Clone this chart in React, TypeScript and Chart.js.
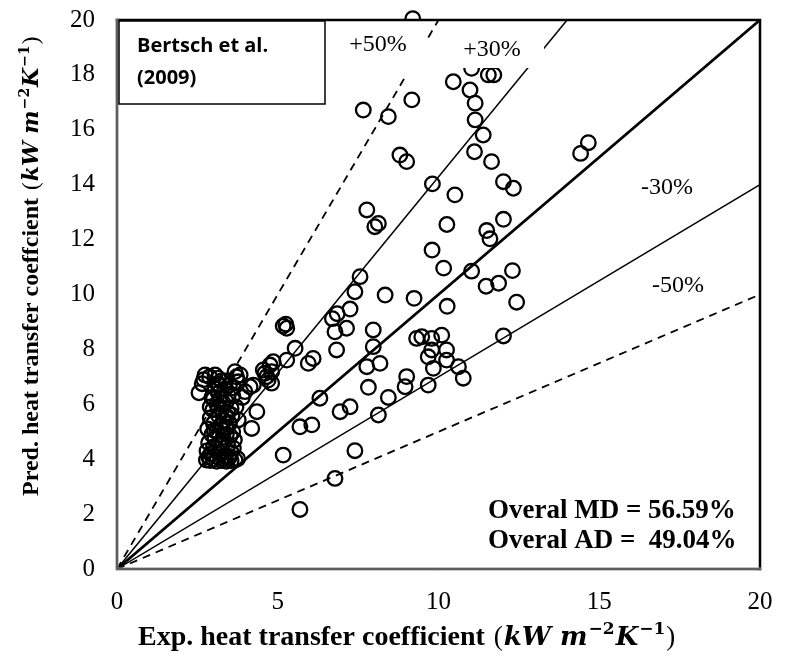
import React, { useEffect, useRef } from 'react';
import { Chart, registerables } from 'chart.js';

Chart.register(...registerables);

// Experimental vs. predicted heat transfer coefficient, kW m^-2 K^-1
const expHTC = [
  9.2, 10.46, 11.03, 11.55, 11.72, 10.98, 11.14, 11.14, 11.39, 11.12, 11.65, 12.02, 12.33,
  7.66, 8.44, 9.17, 8.8, 9.01, 9.81, 10.51, 7.77, 8.02, 8.13, 10.26, 9.8, 11.5, 11.6, 12.02,
  10.16, 11.03, 12.3, 11.48, 11.87, 14.42, 14.66, 7.56, 7.4, 7.25, 8.34, 9.24, 10.27, 12.43,
  6.7, 6.85, 6.78, 7.14, 5.17, 5.25, 5.28, 6.83, 7.97, 7.97, 9.32, 9.48, 9.79, 10.1, 9.68,
  9.79, 10.25, 10.25, 9.84, 10.62, 10.77, 12.02, 9.01, 8.96, 9.68, 7.77, 8.18, 7.82, 8.44,
  8.13, 6.31, 6.94, 7.25, 5.69, 6.06, 5.17, 7.4, 6.78, 5.69, 5.54, 5.28, 5.95, 6.1, 4.76,
  4.81, 4.81, 4.55, 4.66, 4.24, 4.14, 4.35, 4.19, 4.86, 4.6, 4.7,
  2.74, 2.88, 3.05, 3.15, 3.25, 2.65, 2.55, 3.67, 3.72, 3.83, 3.77, 3.98, 3.9,
  3.05, 3.15, 3.2, 3.1, 3.25, 3.15, 3.3, 3.2, 3.1, 3.3, 3.2, 3.1, 3.25,
  3.35, 3.4, 3.45, 3.5, 3.4, 3.45, 3.55, 3.6, 3.7, 3.6, 3.77, 3.65,
  2.9, 2.85, 2.8, 2.95, 3.0, 2.98,
  2.78, 2.9, 3.0, 3.1, 3.25, 3.4, 3.55, 3.67, 3.75, 2.85,
  2.95, 3.0, 3.38, 3.5, 3.28, 3.42, 3.52, 3.02, 3.36, 3.48, 2.92, 3.18, 3.58, 3.3, 2.7, 3.62,
  2.82, 2.9, 3.0, 3.12, 3.45, 3.55, 3.38, 3.28, 3.05, 2.95, 3.5, 3.15, 3.35, 3.62,
];
const predHTC = [
  20.05, 17.75, 18.24, 18.0, 18.0, 17.45, 16.97, 16.36, 15.81, 15.2, 14.84, 14.11, 13.87,
  16.72, 16.48, 17.09, 15.08, 14.84, 14.03, 13.63, 13.08, 12.47, 12.59, 12.55, 11.62, 12.33, 12.03, 12.74,
  10.96, 10.85, 10.87, 10.3, 10.41, 15.14, 15.53, 10.65, 10.1, 9.47, 9.98, 9.86, 9.57, 9.72,
  9.12, 9.3, 8.64, 8.77, 8.85, 8.92, 8.77, 7.98, 8.71, 8.1, 8.4, 8.46, 8.4, 8.52, 7.73,
  7.98, 7.98, 7.61, 7.31, 7.37, 6.95, 8.49, 7.01, 6.64, 6.7, 7.37, 7.49, 6.62, 6.25,
  5.61, 6.22, 5.73, 5.91, 5.18, 5.25, 4.15, 4.31, 3.3, 2.17, 8.04, 7.61, 7.49, 7.67, 7.43,
  7.19, 6.77, 7.25, 7.01, 6.7, 6.64, 5.73, 5.12, 7.55, 7.13, 6.88,
  7.07, 7.0, 7.07, 6.95, 6.85, 6.75, 6.42, 7.19, 7.0, 7.07, 6.82, 6.46, 6.25,
  6.6, 6.4, 6.2, 6.0, 5.8, 5.6, 5.4, 5.2, 5.0, 4.8, 4.6, 4.4, 4.2,
  6.55, 6.1, 5.7, 5.3, 4.9, 4.5, 4.25, 6.3, 5.9, 5.0, 5.43, 4.7,
  5.5, 4.6, 4.3, 4.9, 5.3, 5.8,
  3.97, 3.95, 4.0, 3.92, 3.95, 3.92, 3.95, 3.97, 4.02, 4.08,
  6.25, 4.45, 6.85, 6.7, 5.1, 5.55, 4.85, 5.05, 4.1, 4.05, 4.2, 6.72, 5.6, 6.05, 6.9, 4.4,
  5.1, 5.9, 6.2, 6.75, 6.35, 5.85, 5.15, 4.55, 4.75, 4.2, 4.1, 5.9, 4.0, 6.6,
];

// Reference lines through the origin: parity and deviation bands
const parityLine = [{ x: 0, y: 0 }, { x: 20, y: 20 }];
const plus30Line = [{ x: 0, y: 0 }, { x: 14, y: 20 }];
const plus50Line = [{ x: 0, y: 0 }, { x: 10, y: 20 }];
const minus30Line = [{ x: 0, y: 0 }, { x: 20, y: 14 }];
const minus50Line = [{ x: 0, y: 0 }, { x: 20, y: 10 }];

const bandLabels = ['+50%', '+30%', '-30%', '-50%'];
const sourceLines = ['Bertsch et al.', '(2009)'];
const statLines = ['Overal MD = 56.59%', 'Overal AD =  49.04%'];

const SERIF = "'Liberation Serif', 'Times New Roman', serif";
const MATH = "'DejaVu Serif', 'Liberation Serif', serif";
const SANS = "'Open Sans', Lato, 'Liberation Sans', sans-serif";

// Draws "prefix (kW m^-2 K^-1)" starting at the current origin along +x
function drawUnitTitle(
  ctx: CanvasRenderingContext2D,
  prefix: string,
  x: number,
  y: number,
  size: number,
  mathSize: number,
) {
  const sup = Math.round(mathSize * 0.64);
  const rise = Math.round(mathSize * 0.42);
  const parts: { t: string; font: string; dy: number; gap: number }[] = [
    { t: prefix, font: `bold ${size}px ${SERIF}`, dy: 0, gap: 2 },
    { t: '(', font: `${mathSize + 1}px ${SERIF}`, dy: 0, gap: 1 },
    { t: 'kW', font: `italic bold ${mathSize}px ${MATH}`, dy: 0, gap: 0 },
    { t: ' m', font: `italic bold ${mathSize}px ${MATH}`, dy: 0, gap: 1 },
    { t: '\u22122', font: `bold ${sup}px ${MATH}`, dy: -rise, gap: 1 },
    { t: 'K', font: `italic bold ${mathSize}px ${MATH}`, dy: 0, gap: 1 },
    { t: '\u22121', font: `bold ${sup}px ${MATH}`, dy: -rise, gap: 1 },
    { t: ')', font: `${mathSize + 1}px ${SERIF}`, dy: 0, gap: 0 },
  ];
  let cx = x;
  ctx.textAlign = 'left';
  ctx.textBaseline = 'alphabetic';
  for (const p of parts) {
    ctx.font = p.font;
    ctx.fillText(p.t, cx, y + p.dy);
    cx += ctx.measureText(p.t).width + p.gap;
  }
  return cx;
}

const decorations = {
  id: 'decorations',
  afterDatasetsDraw(chart: Chart) {
    const { ctx, chartArea: a } = chart;
    ctx.save();

    // white label boxes that sit over the band lines
    ctx.fillStyle = '#ffffff';
    ctx.fillRect(336, a.top - 1, 90, 56);
    ctx.fillRect(452, a.top + 10, 92, 38);

    ctx.fillStyle = '#000';
    ctx.font = `24px ${SERIF}`;
    ctx.textAlign = 'center';
    ctx.textBaseline = 'middle';
    ctx.fillText(bandLabels[0], 378, 45);
    ctx.fillText(bandLabels[1], 492, 50);
    ctx.fillText(bandLabels[2], 667, 188);
    ctx.fillText(bandLabels[3], 678, 286);

    // plot frame
    ctx.lineCap = 'square';
    ctx.strokeStyle = '#000';
    ctx.lineWidth = 2.5;
    ctx.beginPath();
    ctx.moveTo(a.left, a.top);
    ctx.lineTo(a.right, a.top);
    ctx.lineTo(a.right, a.bottom);
    ctx.stroke();
    ctx.strokeStyle = '#8a8a8a';
    ctx.lineWidth = 3;
    ctx.beginPath();
    ctx.moveTo(a.left, a.top);
    ctx.lineTo(a.left, a.bottom);
    ctx.lineTo(a.right, a.bottom);
    ctx.stroke();
    ctx.strokeStyle = '#333';
    ctx.lineWidth = 1;
    ctx.beginPath();
    ctx.moveTo(a.left, a.top);
    ctx.lineTo(a.left, a.bottom);
    ctx.lineTo(a.right, a.bottom);
    ctx.stroke();

    // source box
    ctx.fillStyle = '#fff';
    ctx.fillRect(a.left + 2, a.top + 1, 206, 83);
    ctx.strokeStyle = '#000';
    ctx.lineWidth = 1.5;
    ctx.strokeRect(a.left + 2, a.top + 1, 206, 83);
    ctx.fillStyle = '#000';
    ctx.font = `bold 20px ${SANS}`;
    ctx.textAlign = 'left';
    ctx.textBaseline = 'middle';
    ctx.fillText(sourceLines[0], a.left + 20, a.top + 26);
    ctx.fillText(sourceLines[1], a.left + 20, a.top + 58);

    // summary statistics
    ctx.font = `bold 27px ${SERIF}`;
    ctx.fillText(statLines[0], 488, 511);
    ctx.fillText(statLines[1], 488, 541);

    // axis titles
    drawUnitTitle(ctx, 'Exp. heat transfer coefficient ', 138, 645, 28, 26);
    ctx.save();
    ctx.translate(38, 496);
    ctx.rotate(-Math.PI / 2);
    drawUnitTitle(ctx, 'Pred. heat transfer coeffcient ', 0, 0, 24, 22);
    ctx.restore();

    ctx.restore();
  },
};

export default function App() {
  const canvasRef = useRef<HTMLCanvasElement | null>(null);

  useEffect(() => {
    if (!canvasRef.current) return;
    const points = expHTC.map((v, i) => ({ x: v, y: predHTC[i] }));
    const refLine = (data: { x: number; y: number }[], width: number, dash: number[]) => ({
      data,
      showLine: true,
      borderColor: '#000',
      borderWidth: width,
      borderDash: dash,
      pointRadius: 0,
      fill: false,
    });
    const chart = new Chart(canvasRef.current, {
      type: 'scatter',
      data: {
        datasets: [
          {
            data: points,
            pointRadius: 7.3,
            pointBorderWidth: 2.3,
            pointBorderColor: '#000',
            pointBackgroundColor: 'rgba(0,0,0,0)',
            clip: false as any,
          },
          refLine(parityLine, 2.8, []),
          refLine(plus30Line, 1.5, []),
          refLine(minus30Line, 1.5, []),
          refLine(plus50Line, 1.8, [8, 6]),
          refLine(minus50Line, 1.8, [8, 6]),
        ],
      },
      options: {
        responsive: false,
        animation: false,
        events: [],
        layout: { padding: { left: 0, right: 25, top: 20, bottom: 0 } },
        plugins: { legend: { display: false }, tooltip: { enabled: false } },
        scales: {
          x: {
            type: 'linear',
            min: 0,
            max: 20,
            border: { display: false },
            grid: { display: false, drawTicks: false },
            ticks: {
              stepSize: 5,
              padding: 18,
              color: '#000',
              font: { family: SERIF, size: 25 },
            },
            afterFit: (axis: any) => {
              axis.height = 90;
              axis.paddingLeft = 0;
              axis.paddingRight = 0;
            },
          },
          y: {
            type: 'linear',
            min: 0,
            max: 20,
            border: { display: false },
            grid: { display: false, drawTicks: false },
            ticks: {
              stepSize: 2,
              padding: 22,
              color: '#000',
              font: { family: SERIF, size: 25 },
            },
            afterFit: (axis: any) => {
              axis.width = 117;
              axis.paddingTop = 0;
              axis.paddingBottom = 0;
            },
          },
        },
      },
      plugins: [decorations],
    });
    return () => chart.destroy();
  }, []);

  return (
    <div style={{ position: 'fixed', left: 0, top: 0, width: 785, height: 659, background: '#fff' }}>
      <canvas ref={canvasRef} width={785} height={659} />
    </div>
  );
}
